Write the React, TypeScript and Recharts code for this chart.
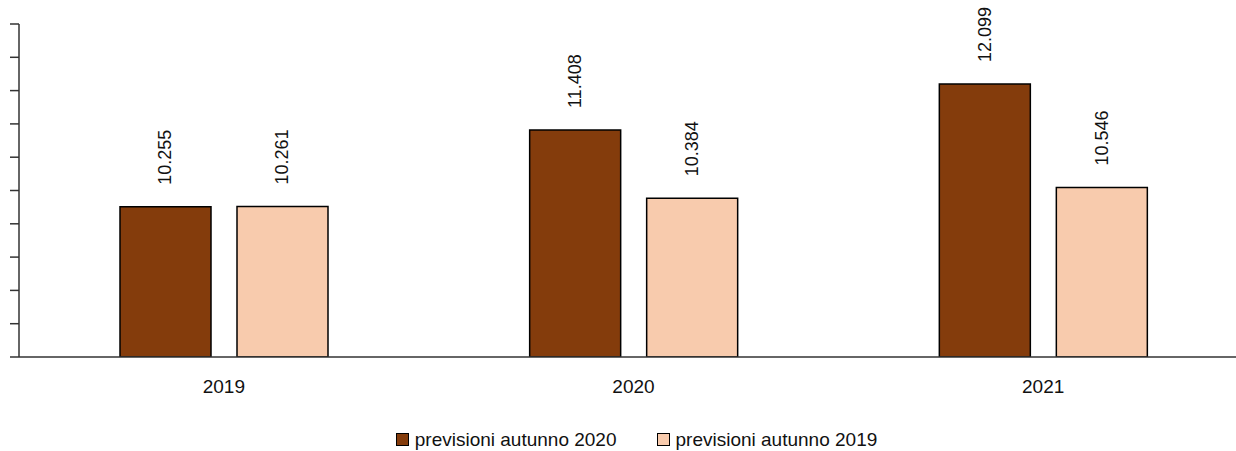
import { BarChart, Bar, XAxis, YAxis, Legend, LabelList } from "recharts";

const categories = ["2019", "2020", "2021"];
const autunno2020 = [10.255, 11.408, 12.099];
const autunno2019 = [10.261, 10.384, 10.546];
const yTicks = [8, 8.5, 9, 9.5, 10, 10.5, 11, 11.5, 12, 12.5, 13];

const seriesNames = ["previsioni autunno 2020", "previsioni autunno 2019"];
const colors = ["#843C0C", "#F8CBAD"];

const data = categories.map((year, i) => ({
  year,
  a2020: autunno2020[i],
  a2019: autunno2019[i],
}));

const FONT = "'Liberation Sans', Arial, sans-serif";

// Rotated value label above each bar
const RotatedLabel = (props: any) => {
  const { x, y, width, value } = props;
  const cx = x + width / 2;
  const ty = y - 22;
  return (
    <text
      x={cx}
      y={ty}
      transform={`rotate(-90, ${cx}, ${ty})`}
      textAnchor="start"
      dominantBaseline="central"
      fontSize={18}
      fontFamily={FONT}
      fill="#111"
    >
      {Number(value).toFixed(3)}
    </text>
  );
};

const CustomLegend = () => (
  <div
    style={{
      height: 44,
      paddingTop: 21,
      paddingLeft: 25,
      boxSizing: "border-box",
      display: "flex",
      justifyContent: "center",
      alignItems: "center",
      fontFamily: FONT,
      fontSize: 19,
      color: "#111",
    }}
  >
    {seriesNames.map((name, i) => (
      <div
        key={name}
        style={{
          display: "flex",
          alignItems: "center",
          marginLeft: i === 0 ? 0 : 40,
          height: 20,
        }}
      >
        <span
          style={{
            display: "inline-block",
            width: 11,
            height: 11,
            background: colors[i],
            border: "1px solid #000",
            marginRight: 6,
          }}
        />
        <span>{name}</span>
      </div>
    ))}
  </div>
);

export default function App() {
  return (
    <div
      style={{
        position: "absolute",
        left: 0,
        top: 0,
        width: 1236,
        height: 451,
        overflow: "hidden",
        background: "#fff",
      }}
    >
      <BarChart
        width={1250}
        height={451}
        data={data}
        margin={{ top: 24, right: 2, left: 0, bottom: 0 }}
        barGap={26}
      >
        <XAxis
          dataKey="year"
          axisLine={{ stroke: "#333", strokeWidth: 1.5 }}
          tickLine={false}
          tickSize={0}
          tickMargin={23}
          height={50}
          tick={{ fill: "#111", fontSize: 19, fontFamily: FONT }}
        />
        <YAxis
          domain={[8, 13]}
          ticks={yTicks}
          width={19}
          tickFormatter={() => ""}
          tickSize={9}
          axisLine={{ stroke: "#333", strokeWidth: 1.5 }}
          tickLine={{ stroke: "#333", strokeWidth: 1.5 }}
          allowDataOverflow
        />
        <Legend verticalAlign="bottom" height={44} content={<CustomLegend />} />
        <Bar
          dataKey="a2020"
          name={seriesNames[0]}
          fill={colors[0]}
          stroke="#000"
          strokeWidth={1.5}
          barSize={91}
          isAnimationActive={false}
        >
          <LabelList dataKey="a2020" content={<RotatedLabel />} />
        </Bar>
        <Bar
          dataKey="a2019"
          name={seriesNames[1]}
          fill={colors[1]}
          stroke="#000"
          strokeWidth={1.5}
          barSize={91}
          isAnimationActive={false}
        >
          <LabelList dataKey="a2019" content={<RotatedLabel />} />
        </Bar>
      </BarChart>
    </div>
  );
}
